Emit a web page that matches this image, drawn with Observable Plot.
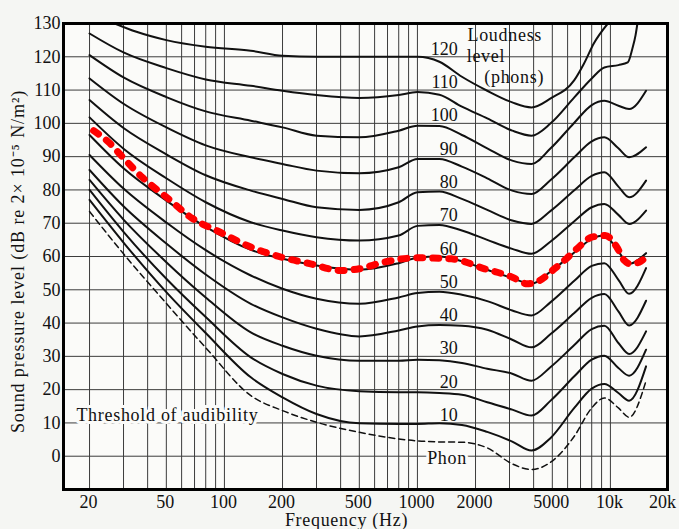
<!DOCTYPE html>
<html><head><meta charset="utf-8">
<script src="https://cdn.jsdelivr.net/npm/d3@7"></script>
<script src="https://cdn.jsdelivr.net/npm/@observablehq/plot@0.6"></script>
<style>
html,body{margin:0;padding:0;background:#f5f6f3;}
#chart{width:679px;height:529px;overflow:hidden;}
</style></head><body><div id="chart"></div>
<script>
// Frequencies (Hz) at which the contours were read
const freqs = [20, 30, 50, 80, 137, 200, 300, 500, 800, 1000, 1300, 1700, 2300, 3100, 3900, 4900, 6500, 8000, 9300, 11000, 12500, 15300];
// Sound pressure level (dB) of each equal-loudness contour
const threshold = [73.5, 60.8, 45.9, 32.6, 18.2, 13.7, 10.2, 7.2, 5.2, 4.6, 4.3, 4.2, 2.5, -2.3, -4, -1.8, 6, 14.5, 17.5, 14.5, 11.7, 22.7];
const phon10 = [77, 64.2, 49.3, 37, 23.7, 17.7, 12.7, 9.9, 9.7, 9.7, 9.9, 9.4, 7.3, 4.4, 1.7, 5.5, 14.5, 20.3, 21.7, 19, 16.7, 27];
const phon20 = [80, 67.4, 53.3, 41.8, 29.7, 24.7, 21.2, 19.5, 19.2, 19.2, 19, 18.5, 16.2, 14, 12.2, 16.7, 24, 29, 30.2, 26.5, 24.2, 32];
const phon30 = [83, 71.1, 58.3, 47.7, 37.2, 33.2, 30.2, 28.7, 28.7, 29, 28.8, 28, 26.3, 24.8, 22.7, 26.8, 33.4, 38.2, 39.2, 34, 30.7, 37.5];
const phon40 = [86, 75.1, 63.9, 54.6, 45.8, 41.7, 38.3, 36, 37.8, 39, 39.4, 39.2, 38, 35, 32.7, 36.7, 43, 47.6, 48.7, 43.5, 39.3, 46.7];
const phon50 = [90.5, 80.4, 70.2, 61.9, 54.3, 50.3, 47.3, 45.8, 47.7, 49, 49.4, 48.5, 46.6, 43.8, 42.3, 46.3, 52.7, 57.2, 58, 53, 48.8, 56.5];
const phon60 = [96.5, 86.5, 76.8, 68.9, 62, 59.3, 57.3, 56, 58, 59.6, 60, 58.6, 56, 53.5, 51.8, 55.5, 61.2, 65.3, 66.3, 61.5, 57.8, 61];
const phon70 = [101.8, 92.4, 83.5, 76.3, 70.3, 67.8, 65.8, 64.8, 66.3, 69.2, 69.5, 67.8, 65, 62.3, 60.8, 64.5, 70.6, 74.8, 75.8, 72.5, 69.8, 73.8];
const phon80 = [107, 98.6, 90.7, 84.4, 79.8, 77.3, 74.8, 74, 76.3, 79.3, 79.5, 77.3, 74, 70.8, 69.8, 73.7, 79.9, 84.2, 85.3, 81, 77.8, 82.8];
const phon90 = [113.5, 105.9, 98.8, 93.4, 89.8, 87.8, 85.8, 85, 86.8, 89.3, 89.3, 87, 83.5, 79.8, 78.8, 83, 89.8, 94.6, 95.8, 92.5, 89.8, 92.8];
const phon100 = [120.5, 113.8, 107.9, 103.6, 100.8, 98.8, 96.3, 95.8, 97.8, 99.3, 99.2, 96.5, 92.5, 88.8, 87.8, 92.5, 100.2, 105.5, 106.8, 105.3, 104.3, 109.8];
const freqs110 = [20, 30, 50, 80, 137, 200, 300, 500, 800, 1000, 1300, 1700, 2300, 3100, 3900, 4900, 6500, 8000, 9300, 11000, 12300, 13000, 13500, 13800];
const phon110 = [127, 121.3, 116.6, 113.2, 111.3, 109.8, 108.5, 107.6, 108.5, 109.4, 108.6, 105, 101.5, 97.8, 96.3, 100, 107.8, 113.5, 116.8, 117.5, 118.3, 122.5, 126.5, 130];
const freqs120 = [27, 35, 50, 80, 137, 200, 300, 500, 800, 1000, 1300, 1700, 2300, 3100, 3900, 4900, 6500, 7300, 8200, 9700];
const phon120 = [130, 127.5, 125, 123, 121.8, 120.3, 120, 120, 120, 120, 118.5, 114, 109.8, 106.3, 104.8, 107.5, 113, 118, 124, 130];
// Red highlighted (dotted) 60-phon trace
const redFreqs = [21, 25.5, 29, 37.5, 50.6, 68, 95, 135, 203, 280, 400, 500, 670, 1000, 1500, 2230, 3100, 3700, 4300, 5130, 5900, 6700, 8000, 9400, 10800, 11800, 12700, 14100, 15800];
const redSpl = [97.8, 94, 90.5, 83.8, 77.6, 71.5, 67.3, 63, 59.6, 57.8, 55.8, 56.3, 58.3, 59.6, 59.3, 56.3, 53.8, 51.8, 52.8, 56.3, 59.3, 62.3, 65.8, 66.3, 62.8, 58.8, 57.8, 58.3, 60.8];

// Axes / grid
const xTicks = [20, 50, 100, 200, 500, 1000, 2000, 5000, 10000];
const xTickLabels = ["20", "50", "100", "200", "500", "1000", "2000", "5000", "10k"];
const xLastTick = [20000];
const xLastLabel = ["20k"];
const xGrid = [20, 30, 40, 50, 60, 70, 80, 90, 100, 200, 300, 400, 500, 600, 700, 800, 900, 1000, 2000, 3000, 4000, 5000, 6000, 7000, 8000, 9000, 10000];
const yTicks = [0, 10, 20, 30, 40, 50, 60, 70, 80, 90, 100, 110, 120, 130];
const yGrid = [0, 10, 20, 30, 40, 50, 60, 70, 80, 90, 100, 110, 120];
const phonLevels = [120, 110, 100, 90, 80, 70, 60, 50, 40, 30, 20, 10];

const solid = [
  ["10", freqs, phon10], ["20", freqs, phon20], ["30", freqs, phon30], ["40", freqs, phon40],
  ["50", freqs, phon50], ["60", freqs, phon60], ["70", freqs, phon70], ["80", freqs, phon80],
  ["90", freqs, phon90], ["100", freqs, phon100], ["110", freqs110, phon110], ["120", freqs120, phon120]
].flatMap(([name, fs, vs]) => fs.map((f, i) => ({curve: name, f, spl: vs[i]})));
const dashed = freqs.map((f, i) => ({f, spl: threshold[i]}));
const red = redFreqs.map((f, i) => ({f, spl: redSpl[i]}));

const bg = "#fbfbf9";
const plot = Plot.plot({
  width: 679, height: 529,
  marginLeft: 63, marginRight: 12, marginTop: 23, marginBottom: 40,
  style: {fontFamily: "'Liberation Serif', 'Times New Roman', serif", fontSize: "18px", color: "#111", background: "transparent", overflow: "visible"},
  x: {type: "log", domain: [14.66, 19760], axis: null},
  y: {domain: [-10, 130]},
  marks: [
    Plot.frame({fill: bg}),
    Plot.ruleY(yGrid, {stroke: "#3c3c3c", strokeWidth: 1}),
    Plot.ruleX(xGrid, {stroke: "#3c3c3c", strokeWidth: 1}),
    Plot.line(dashed, {x: "f", y: "spl", curve: "monotone-x", stroke: "#111", strokeWidth: 1.5, strokeDasharray: "6,4", clip: true}),
    Plot.line(solid, {x: "f", y: "spl", z: "curve", curve: "monotone-x", stroke: "#111", strokeWidth: 2, clip: true}),
    Plot.line(red, {x: "f", y: "spl", curve: "monotone-x", stroke: "#f00", strokeWidth: 7, strokeDasharray: "6,10", clip: true}),
    Plot.frame({stroke: "#000", strokeWidth: 3}),
    Plot.text(xTicks, {x: d => d, frameAnchor: "bottom", lineAnchor: "top", dy: 6, dx: -1, text: d => xTickLabels[xTicks.indexOf(d)], fill: "#111"}),
    Plot.text(xLastTick, {x: d => d, frameAnchor: "bottom", lineAnchor: "top", dy: 6, dx: -6, text: d => xLastLabel[xLastTick.indexOf(d)], fill: "#111"}),
    Plot.axisY({ticks: yTicks, tickSize: 0, tickPadding: 3, label: null}),
    Plot.text(phonLevels, {x: () => 1620, y: d => d + 2.3, text: d => String(d), textAnchor: "end", fill: "#111"}),
    Plot.text(["Phon"], {x: () => 1424, y: () => -0.7, text: d => d, fill: "#111", stroke: bg, strokeWidth: 6}),
    Plot.text(["Threshold of audibility"], {x: () => 17.1, y: () => 12.2, text: d => d, textAnchor: "start", fill: "#111", stroke: bg, strokeWidth: 6}),
    Plot.text(["Loudness"], {x: () => 1817, y: () => 126.4, text: d => d, textAnchor: "start", fill: "#111"}),
    Plot.text(["level"], {x: () => 1800, y: () => 120.2, text: d => d, textAnchor: "start", fill: "#111"}),
    Plot.text(["(phons)"], {x: () => 2220, y: () => 114, text: d => d, textAnchor: "start", fill: "#111"}),
    Plot.text(["Sound pressure level (dB re 2\u00d7 10\u207b\u2075 N/m\u00b2)"], {frameAnchor: "left", rotate: -90, dx: -45, dy: 5, textAnchor: "middle", lineAnchor: "middle", text: d => d, fill: "#111"}),
    Plot.text(["Frequency (Hz)"], {frameAnchor: "bottom", dx: -19, dy: 31, lineAnchor: "middle", text: d => d, fill: "#111"})
  ]
});
// widen the letter spacing of the word labels (as in the scanned original)
d3.select(plot).selectAll("text")
  .filter(function() { return /[a-z]{3,}/i.test(this.textContent); })
  .style("letter-spacing", function() { return /Sound/.test(this.textContent) ? "0.9px" : "0.7px"; });
document.getElementById("chart").appendChild(plot);
</script></body></html>
